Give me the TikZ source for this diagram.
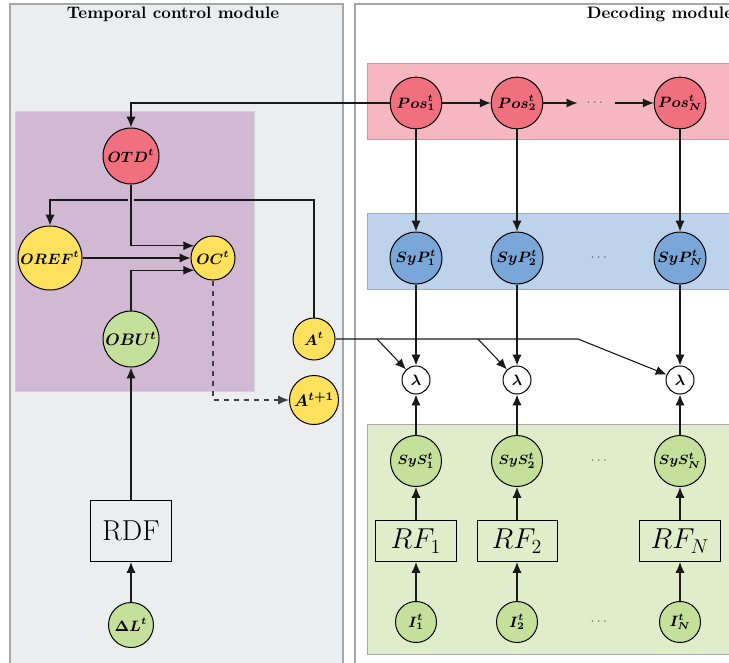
\documentclass[tikz,border=0pt]{standalone}
\usepackage{amsmath}
\usepackage{bm}
\usetikzlibrary{shapes}
\usetikzlibrary{arrows,arrows.meta}

\definecolor{panelgray}{HTML}{ECEDEF}
\definecolor{framegray}{HTML}{A8A8A8}
\definecolor{purplebg}{HTML}{D1B9D4}
\definecolor{pinkbg}{HTML}{F7B7C0}
\definecolor{bluebg}{HTML}{BCD3EB}
\definecolor{greenbg}{HTML}{E0EDCB}
\definecolor{rednode}{HTML}{F07080}
\definecolor{bluenode}{HTML}{7BA7D8}
\definecolor{greennode}{HTML}{C5E09A}
\definecolor{yellownode}{HTML}{FFE15E}

\begin{document}
\begin{tikzpicture}[x=0.6pt,y=-0.6pt]
				\tikzstyle{varnode}=[circle,draw,inner sep=0pt,line width=0.6pt]
				\tikzstyle{boxnode}=[rectangle,draw,inner sep=0pt,line width=0.6pt]
				\tikzstyle{dotnode}=[inner sep=0pt,minimum width=22pt,text=darkgray,font=\scriptsize]
				\tikzstyle{conn}=[->,>={Latex[length=6.5pt,width=5.5pt]},line width=0.65pt,black!90]
				\clip (0,0) rectangle (729,662);
				% modules
				\draw[framegray,fill=panelgray,line width=0.9pt] (10,4) rectangle (343,700);
				\draw[framegray,fill=white,line width=0.9pt] (355,4) rectangle (760,700);
				\draw[framegray!50,fill=purplebg] (15,111) rectangle (254,391);
				\draw[framegray,fill=pinkbg] (367,63) rectangle (760,139);
				\draw[framegray,fill=bluebg] (367,213) rectangle (760,289);
				\draw[framegray,fill=greenbg] (367,424) rectangle (760,654);
				\node[font=\bfseries] (tcm) at (173,14) {Temporal control module};
				\node[font=\bfseries] (dm) at (660,14) {Decoding module};
				% temporal control
				\node[varnode,fill=rednode,minimum size=33.6pt,font=\small] (OTD) at (131,156) {$\bm{OTD^t}$};
				\node[varnode,fill=yellownode,minimum size=38.4pt,font=\small] (OREF) at (50,258) {$\bm{OREF^t}$};
				\node[varnode,fill=yellownode,minimum size=26.4pt,font=\small] (OC) at (213,258) {$\bm{OC^t}$};
				\node[varnode,fill=greennode,minimum size=33.6pt] (OBU) at (131,339) {$\bm{OBU^t}$};
				\node[varnode,fill=yellownode,minimum size=25.2pt,font=\small] (At) at (314,339) {$\bm{A^t}$};
				\node[varnode,fill=yellownode,minimum size=29.4pt] (Anext) at (314,400) {$\bm{A^{t+1}}$};
				\node[boxnode,minimum width=48.6pt,minimum height=36.6pt,font=\LARGE] (RDF) at (131,531) {RDF};
				\node[varnode,fill=greennode,minimum size=27pt,font=\small] (DL) at (131,625) {$\bm{\Delta L^t}$};
				% decoding
				\node[varnode,fill=rednode,minimum size=31pt,font=\small] (Pos1) at (416,103) {$\bm{Pos^t_1}$};
				\node[varnode,fill=rednode,minimum size=31pt,font=\small] (Pos2) at (517,103) {$\bm{Pos^t_2}$};
				\node[dotnode] (posdots) at (596,103) {$\cdots$};
				\node[varnode,fill=rednode,minimum size=31pt,font=\small] (PosN) at (680,103) {$\bm{Pos^t_N}$};
				\node[varnode,fill=bluenode,minimum size=31.2pt,font=\small] (SyP1) at (416,258) {$\bm{SyP^t_1}$};
				\node[varnode,fill=bluenode,minimum size=31.2pt,font=\small] (SyP2) at (517,258) {$\bm{SyP^t_2}$};
				\node[dotnode] (sypdots) at (600,258) {$\cdots$};
				\node[varnode,fill=bluenode,minimum size=31.2pt,font=\small] (SyPN) at (680,258) {$\bm{SyP^t_N}$};
				\node[varnode,fill=white,minimum size=16.8pt,font=\small] (lam1) at (416,380) {$\bm{\lambda}$};
				\node[varnode,fill=white,minimum size=16.8pt,font=\small] (lam2) at (517,380) {$\bm{\lambda}$};
				\node[varnode,fill=white,minimum size=16.8pt,font=\small] (lamN) at (680,380) {$\bm{\lambda}$};
				\node[varnode,fill=greennode,minimum size=30.6pt,font=\footnotesize] (SyS1) at (416,461) {$\bm{SyS^t_1}$};
				\node[varnode,fill=greennode,minimum size=30.6pt,font=\footnotesize] (SyS2) at (517,461) {$\bm{SyS^t_2}$};
				\node[dotnode] (sysdots) at (600,461) {$\cdots$};
				\node[varnode,fill=greennode,minimum size=30.6pt,font=\footnotesize] (SySN) at (680,461) {$\bm{SyS^t_N}$};
				\node[boxnode,minimum width=49pt,minimum height=24.6pt,font=\LARGE] (RF1) at (416,541) {$RF_1$};
				\node[boxnode,minimum width=48pt,minimum height=24.6pt,font=\LARGE] (RF2) at (517,541) {$RF_2$};
				\node[boxnode,minimum width=49pt,minimum height=24.6pt,font=\LARGE] (RFN) at (680,541) {$RF_N$};
				\node[varnode,fill=greennode,minimum size=24.6pt,font=\small] (I1) at (416,622) {$\bm{I^t_1}$};
				\node[varnode,fill=greennode,minimum size=24.6pt,font=\small] (I2) at (517,622) {$\bm{I^t_2}$};
				\node[dotnode] (idots) at (600,622) {$\cdots$};
				\node[varnode,fill=greennode,minimum size=24.6pt,font=\small] (IN) at (680,622) {$\bm{I^t_N}$};
				\coordinate (fbk) at (314,200);
				\coordinate (br1) at (377,339);
				\coordinate (br2) at (478,339);
				\coordinate (brN) at (578,339);
				% connectors
				\draw[conn] (Pos1) -| (OTD);
				\draw[conn] (At) -- (fbk) -| (OREF);
				\draw[conn,preaction={draw=purplebg,-,line width=4pt,shorten <=2pt,shorten >=12pt}] (OTD) |- (OC.147);
				\draw[conn] (OREF) -- (OC);
				\draw[conn] (OBU) |- (OC.213);
				\draw[conn] (RDF) -- (OBU);
				\draw[conn] (DL) -- (RDF);
				\draw[conn,dashed,darkgray] (OC) |- (Anext);
				\draw[conn] (At) -- (brN) -- (lamN);
				\draw[conn] (br1) -- (lam1);
				\draw[conn] (br2) -- (lam2);
				\draw[conn] (Pos1) -- (Pos2);
				\draw[conn] (Pos2) -- (posdots);
				\draw[conn] (posdots) -- (PosN);
				\draw[conn] (Pos1) -- (SyP1);
				\draw[conn] (Pos2) -- (SyP2);
				\draw[conn] (PosN) -- (SyPN);
				\draw[conn] (SyP1) -- (lam1);
				\draw[conn] (SyP2) -- (lam2);
				\draw[conn] (SyPN) -- (lamN);
				\draw[conn] (SyS1) -- (lam1);
				\draw[conn] (SyS2) -- (lam2);
				\draw[conn] (SySN) -- (lamN);
				\draw[conn] (RF1) -- (SyS1);
				\draw[conn] (RF2) -- (SyS2);
				\draw[conn] (RFN) -- (SySN);
				\draw[conn] (I1) -- (RF1);
				\draw[conn] (I2) -- (RF2);
				\draw[conn] (IN) -- (RFN);
\end{tikzpicture}
\end{document}
